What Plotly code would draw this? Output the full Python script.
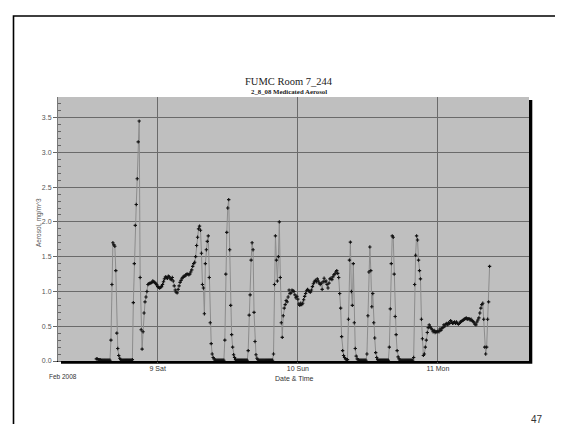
import plotly.graph_objects as go
import pandas as pd

# ---------------- data ----------------
start_time = "2008-02-08 13:30"
sample_step = "10min"

aerosol = [
    0.03, 0.03, 0.02, 0.02, 0.02, 0.01, 0.01, 0.01, 0.01, 0.01,
    0.01, 0.01, 0.01, 0.01, 0.01, 0.30, 1.10, 1.70, 1.67, 1.65,
    1.30, 0.40, 0.18, 0.08, 0.04, 0.02, 0.01, 0.01, 0.01, 0.01,
    0.01, 0.01, 0.01, 0.01, 0.01, 0.01, 0.01, 0.02, 0.84, 1.40,
    1.95, 2.25, 2.62, 3.15, 3.45, 1.20, 0.45, 0.17, 0.42, 0.69,
    0.85, 0.92, 1.00, 1.10, 1.11, 1.12, 1.12, 1.13, 1.15, 1.14,
    1.13, 1.11, 1.10, 1.07, 1.06, 1.05, 1.06, 1.07, 1.10, 1.14,
    1.18, 1.21, 1.20, 1.19, 1.22, 1.21, 1.18, 1.17, 1.20, 1.15,
    1.08, 1.02, 0.99, 0.98, 1.03, 1.08, 1.13, 1.16, 1.19, 1.20,
    1.22, 1.22, 1.24, 1.25, 1.25, 1.24, 1.25, 1.28, 1.31, 1.36,
    1.40, 1.42, 1.50, 1.66, 1.78, 1.90, 1.94, 1.88, 1.55, 1.10,
    1.05, 0.68, 1.40, 1.60, 1.72, 1.80, 1.20, 0.55, 0.25, 0.10,
    0.05, 0.03, 0.01, 0.01, 0.01, 0.01, 0.01, 0.01, 0.01, 0.01,
    0.01, 0.01, 0.30, 1.25, 1.85, 2.20, 2.32, 1.60, 0.80, 0.38,
    0.20, 0.09, 0.05, 0.02, 0.01, 0.01, 0.01, 0.01, 0.01, 0.01,
    0.01, 0.01, 0.01, 0.01, 0.01, 0.01, 0.15, 0.66, 0.95, 1.45,
    1.70, 1.60, 0.70, 0.28, 0.09, 0.04, 0.02, 0.01, 0.01, 0.01,
    0.01, 0.01, 0.01, 0.01, 0.01, 0.01, 0.01, 0.01, 0.01, 0.01,
    0.01, 0.01, 0.10, 1.10, 1.80, 1.45, 1.15, 1.50, 2.00, 1.20,
    0.55, 0.34, 0.65, 0.76, 0.81, 0.87, 0.85, 0.92, 1.02, 0.97,
    0.98, 1.02, 1.01, 1.00, 0.95, 0.91, 0.93, 0.89, 0.82, 0.80,
    0.83, 0.81, 0.83, 0.88, 0.93, 0.97, 1.01, 1.03, 1.01, 1.00,
    0.99, 1.02, 1.07, 1.11, 1.14, 1.16, 1.14, 1.18, 1.15, 1.12,
    1.10, 1.12, 1.03, 1.14, 1.19, 1.14, 1.15, 1.10, 1.05, 1.12,
    1.18, 1.19, 1.17, 1.21, 1.24, 1.25, 1.28, 1.30, 1.26, 1.20,
    0.97, 0.76, 0.35, 0.15, 0.08, 0.05, 0.03, 0.02, 0.02, 0.60,
    1.45, 1.71, 1.00, 0.80, 1.40, 0.55, 0.18, 0.07, 0.03, 0.02,
    0.01, 0.01, 0.01, 0.01, 0.01, 0.01, 0.01, 0.01, 0.10, 0.65,
    1.28, 1.64, 1.30, 0.78, 0.97, 0.55, 0.33, 0.12, 0.05, 0.02,
    0.01, 0.01, 0.01, 0.01, 0.01, 0.01, 0.01, 0.01, 0.01, 0.01,
    0.01, 0.20, 0.75, 1.40, 1.80, 1.78, 1.25, 0.64, 0.38, 0.15,
    0.06, 0.03, 0.01, 0.01, 0.01, 0.01, 0.01, 0.01, 0.01, 0.01,
    0.01, 0.01, 0.01, 0.01, 0.01, 0.01, 0.05, 1.10, 1.52, 1.80,
    1.74, 1.45, 1.30, 1.18, 0.60, 0.32, 0.08, 0.10, 0.20, 0.30,
    0.41, 0.48, 0.52, 0.49, 0.47, 0.45, 0.42, 0.44, 0.41, 0.42,
    0.42, 0.43, 0.42, 0.46, 0.44, 0.47, 0.48, 0.52, 0.50, 0.53,
    0.54, 0.52, 0.55, 0.54, 0.58, 0.56, 0.54, 0.55, 0.56, 0.54,
    0.56, 0.54, 0.53, 0.54, 0.56, 0.57, 0.58, 0.59, 0.60, 0.61,
    0.62, 0.60, 0.61, 0.61, 0.59, 0.60, 0.58, 0.57, 0.55, 0.53,
    0.52, 0.56, 0.59, 0.62, 0.69, 0.76, 0.81, 0.83, 0.60, 0.20,
    0.10, 0.20, 0.60, 0.85, 1.36,
]

day_ticks = ["2008-02-09", "2008-02-10", "2008-02-11"]
day_labels = ["9 Sat", "10 Sun", "11 Mon"]
x_range = ["2008-02-08 06:56", "2008-02-11 15:35"]
y_range = [0, 3.796]

title_text = "FUMC Room 7_244"
subtitle_text = "2_8_08 Medicated Aerosol"
y_title = "Aerosol, mg/m^3"
x_title = "Date & Time"
month_label = "Feb 2008"
page_number = "47"

times = pd.date_range(start_time, periods=len(aerosol), freq=sample_step)

# ---------------- layout helpers ----------------
W, H = 563, 424
L, R, T, B = 50, 42, 89, 71
PW, PH = W - L - R, H - T - B


def px(x):
    return (x - L) / PW


def py(y):
    return (H - B - y) / PH


SANS = "Liberation Sans, Arial, sans-serif"
SERIF = "Liberation Serif, Times New Roman, serif"

fig = go.Figure()
fig.add_trace(go.Scatter(
    x=times, y=aerosol, mode="lines+markers",
    line=dict(color="#8c8c8c", width=1),
    marker=dict(symbol="cross", size=2.8, color="#111111"),
    showlegend=False, hoverinfo="x+y",
))

shapes = [
    # slide border
    dict(type="rect", xref="paper", yref="paper",
         x0=px(5.5), x1=px(640), y0=py(8), y1=py(520),
         line=dict(color="black", width=1.6), fillcolor="rgba(0,0,0,0)", layer="below"),
    # drop shadow
    dict(type="rect", xref="paper", yref="paper",
         x0=px(53), x1=px(524.3), y0=py(355.8), y1=py(92),
         line=dict(width=0), fillcolor="black", layer="below"),
    # plot background
    dict(type="rect", xref="paper", yref="paper",
         x0=0, x1=1, y0=0, y1=1,
         line=dict(width=0), fillcolor="#bfbfbf", layer="below"),
]

annotations = [
    dict(text=title_text, x=px(281), y=py(73.5), font=dict(family=SERIF, size=10.5, color="#222")),
    dict(text="<b>" + subtitle_text + "</b>", x=px(281), y=py(83.5),
         font=dict(family=SERIF, size=6.8, color="#222")),
    dict(text=month_label, x=px(55), y=py(368), font=dict(family=SANS, size=6.5, color="#333")),
    dict(text=x_title, x=px(286), y=py(370), font=dict(family=SANS, size=7, color="#333")),
    dict(text=y_title, x=px(31), y=py(215), textangle=-90,
         font=dict(family=SANS, size=6.5, color="#555")),
    dict(text=page_number, x=px(529), y=py(411.5), font=dict(family=SANS, size=10, color="#333")),
]
for a in annotations:
    a.update(xref="paper", yref="paper", showarrow=False, xanchor="center", yanchor="middle")

fig.update_layout(
    width=W, height=H,
    margin=dict(l=L, r=R, t=T, b=B, pad=0),
    paper_bgcolor="white", plot_bgcolor="rgba(0,0,0,0)",
    shapes=shapes, annotations=annotations,
    font=dict(family=SANS, size=7, color="#333"),
    xaxis=dict(
        type="date", range=x_range,
        tickmode="array", tickvals=day_ticks, ticktext=day_labels,
        showgrid=True, gridcolor="#6a6a6a", gridwidth=1,
        ticks="outside", ticklen=1, tickcolor="#555",
        tickfont=dict(family=SANS, size=7, color="#333"),
        showline=True, linecolor="black", linewidth=1,
        zeroline=False, fixedrange=True,
    ),
    yaxis=dict(
        range=y_range, tick0=0, dtick=0.5, tickformat=".1f",
        showgrid=True, gridcolor="#6a6a6a", gridwidth=1,
        ticks="outside", ticklen=4, tickcolor="#666",
        minor=dict(tick0=0, dtick=0.1, ticks="inside", ticklen=3, tickcolor="#666", showgrid=False),
        tickfont=dict(family=SANS, size=7, color="#555"),
        showline=True, linecolor="#777", linewidth=1,
        zeroline=False, fixedrange=True,
    ),
)

fig.write_html("out.html")
